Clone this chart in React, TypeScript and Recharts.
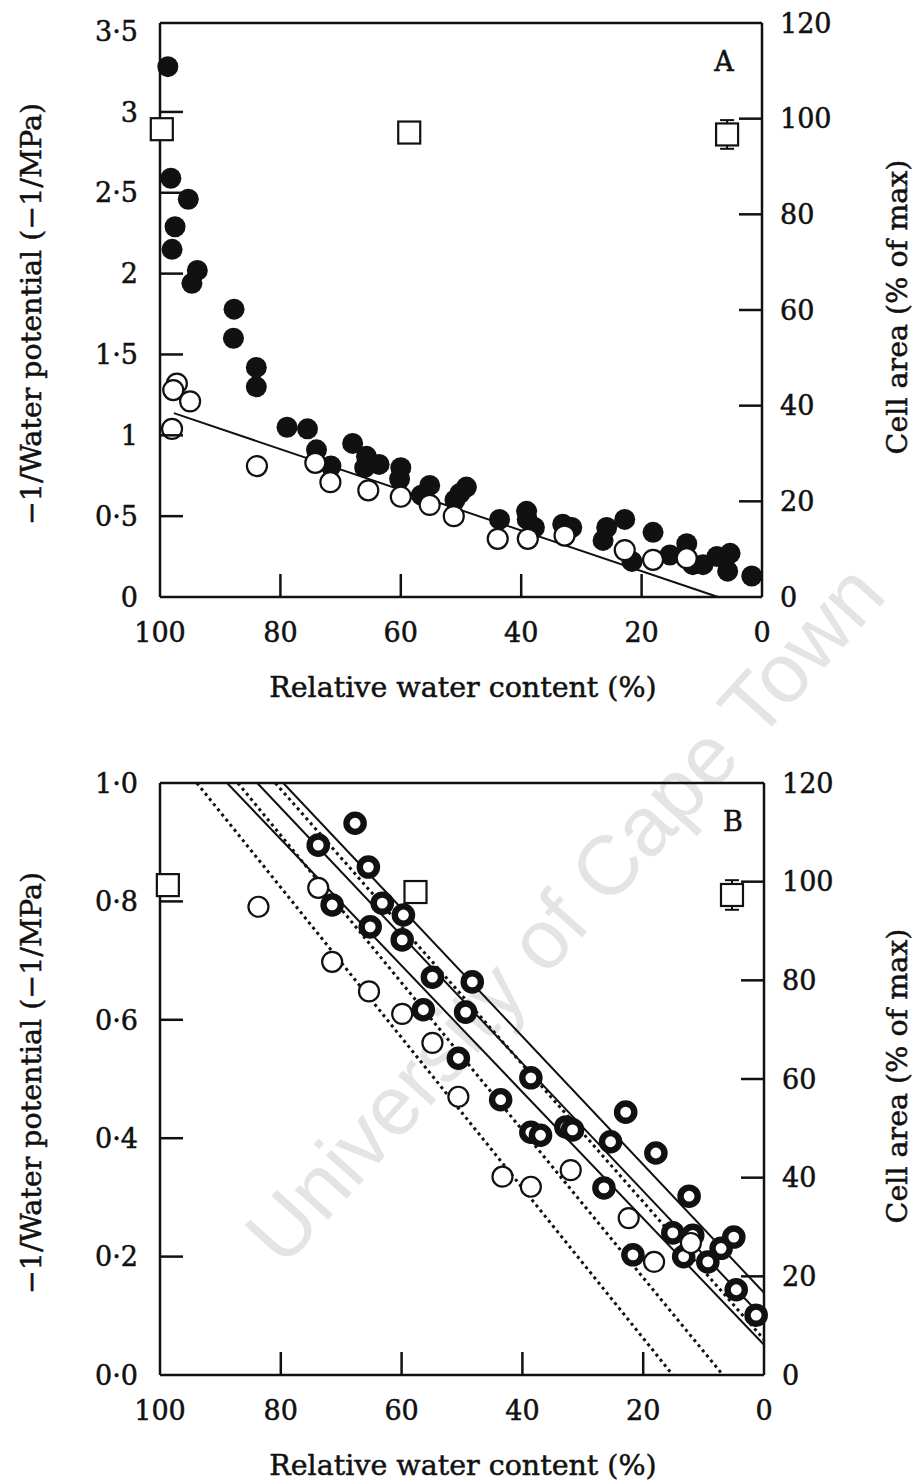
import React from "react";
import {
  ComposedChart,
  ErrorBar,
  Label,
  Line,
  ReferenceLine,
  Scatter,
  XAxis,
  YAxis,
} from "recharts";

// ---- panel A ----
const aFilledRwc = [98.7, 98.2, 95.3, 97.5, 98.0, 93.8, 94.7, 87.7, 87.8, 84.0, 84.0, 78.9, 75.5, 74.0, 71.6, 68.0, 65.7, 63.6, 66.0, 60.0, 60.2, 55.2, 56.6, 49.1, 50.2, 51.0, 43.6, 39.1, 37.8, 39.0, 33.1, 31.6, 25.8, 26.4, 22.8, 21.6, 18.1, 15.3, 12.5, 11.5, 9.8, 7.5, 5.3, 5.7, 1.7];
const aFilledPot = [3.28, 2.59, 2.46, 2.29, 2.15, 2.02, 1.94, 1.78, 1.6, 1.42, 1.3, 1.05, 1.04, 0.91, 0.81, 0.95, 0.87, 0.82, 0.8, 0.8, 0.73, 0.69, 0.63, 0.68, 0.64, 0.6, 0.48, 0.53, 0.43, 0.48, 0.45, 0.43, 0.43, 0.35, 0.48, 0.22, 0.4, 0.26, 0.33, 0.2, 0.2, 0.25, 0.27, 0.16, 0.13];
const aOpenRwc = [97.2, 97.8, 95.0, 98.0, 83.9, 74.2, 71.7, 65.4, 60.0, 55.2, 51.2, 43.9, 38.9, 32.8, 22.8, 18.1, 12.5];
const aOpenPot = [1.32, 1.28, 1.21, 1.04, 0.81, 0.83, 0.71, 0.66, 0.62, 0.57, 0.5, 0.36, 0.36, 0.38, 0.29, 0.23, 0.24];
const aSquareRwc = [99.7, 58.6];
const aSquareArea = [97.8, 97.1];
const aSquareErrRwc = [5.8];
const aSquareErrArea = [96.7];
const aSquareErr = [3];
const aFitRwc = [97.7, 7.3];
const aFitPot = [1.137, 0];

// ---- panel B ----
const bRingRwc = [67.7, 73.8, 65.5, 71.5, 63.2, 65.2, 59.7, 59.9, 54.9, 56.4, 48.3, 49.4, 50.6, 38.6, 43.6, 22.9, 32.8, 31.7, 38.6, 37.0, 25.4, 17.9, 26.5, 12.4, 15.1, 11.8, 13.3, 9.3, 7.1, 5.0, 21.7, 4.6, 1.3];
const bRingPot = [0.932, 0.895, 0.858, 0.794, 0.797, 0.757, 0.777, 0.735, 0.672, 0.617, 0.664, 0.613, 0.535, 0.502, 0.465, 0.444, 0.419, 0.414, 0.41, 0.405, 0.394, 0.375, 0.316, 0.302, 0.24, 0.236, 0.2, 0.191, 0.214, 0.233, 0.203, 0.144, 0.101];
const bOpenRwc = [83.7, 73.8, 71.5, 65.4, 59.9, 54.9, 50.6, 43.3, 38.6, 32.0, 22.4, 18.2, 12.1];
const bOpenPot = [0.791, 0.823, 0.698, 0.648, 0.61, 0.561, 0.47, 0.335, 0.318, 0.346, 0.265, 0.191, 0.223];
const bSquareRwc = [98.7, 57.7];
const bSquareArea = [99.3, 97.9];
const bSquareErrRwc = [5.3];
const bSquareErrArea = [97.3];
const bSquareErr = [3];
// fitted lines: [rwc at start, pot at start, rwc at end, pot at end]
const bSolidLines = [
  [88.9, 1.0, 0, 0.051],
  [83.9, 1.0, 0, 0.095],
  [79.6, 1.0, 0, 0.139],
];
const bDottedLines = [
  [93.9, 1.0, 15.1, 0],
  [87.1, 1.0, 6.8, 0],
  [80.9, 1.0, 0, 0.06],
];

// ---- axes ----
const xTicks = [0, 20, 40, 60, 80, 100];
const xTickLabels = ["0", "20", "40", "60", "80", "100"];
const aYTicks = [0, 0.5, 1, 1.5, 2, 2.5, 3, 3.5];
const aYTickLabels = ["0", "0·5", "1", "1·5", "2", "2·5", "3", "3·5"];
const bYTicks = [0, 0.2, 0.4, 0.6, 0.8, 1.0];
const bYTickLabels = ["0·0", "0·2", "0·4", "0·6", "0·8", "1·0"];
const areaTicks = [0, 20, 40, 60, 80, 100, 120];
const areaTickLabels = ["0", "20", "40", "60", "80", "100", "120"];

const INK = "#111";
const FONT = "'DejaVu Serif', 'Liberation Serif', serif";
const TICK = 23;

const zip = (xs: number[], ys: number[]) => xs.map((x, i) => ({ x, y: ys[i] }));

const labelOf = (ticks: number[], labels: string[], v: number) => {
  const i = ticks.findIndex((t) => Math.abs(t - v) < 1e-9);
  return i >= 0 ? labels[i] : String(v);
};

const tickText = { fontFamily: FONT, fontSize: 27, fill: INK, stroke: INK, strokeWidth: 0.5 } as const;
const titleText = { fontFamily: FONT, fontSize: 28.5, fill: INK, stroke: INK, strokeWidth: 0.5 } as const;

const leftTick = (ticks: number[], labels: string[]) => (props: any) => {
  const { x, y, payload } = props;
  const v = payload.value;
  const inner = v > ticks[0] && v < ticks[ticks.length - 1];
  return (
    <g>
      {inner && <line x1={x} x2={x + TICK} y1={y} y2={y} stroke={INK} strokeWidth={2.5} />}
      <text x={x - 22} y={y} dy="0.36em" textAnchor="end" {...tickText}>
        {labelOf(ticks, labels, v)}
      </text>
    </g>
  );
};

const rightTick = (props: any) => {
  const { x, y, payload } = props;
  const v = payload.value;
  const inner = v > 0 && v < 120;
  return (
    <g>
      {inner && <line x1={x - TICK} x2={x} y1={y} y2={y} stroke={INK} strokeWidth={2.5} />}
      <text x={x + 18} y={y} dy="0.36em" textAnchor="start" {...tickText}>
        {labelOf(areaTicks, areaTickLabels, v)}
      </text>
    </g>
  );
};

const bottomTick = (props: any) => {
  const { x, y, payload } = props;
  const v = payload.value;
  const inner = v > 0 && v < 100;
  return (
    <g>
      {inner && <line x1={x} x2={x} y1={y} y2={y - TICK} stroke={INK} strokeWidth={2.5} />}
      <text x={x} y={y + 45} textAnchor="middle" {...tickText}>
        {labelOf(xTicks, xTickLabels, v)}
      </text>
    </g>
  );
};

const FilledDot = (p: any) => <circle cx={p.cx} cy={p.cy} r={10.5} fill={INK} />;
const OpenDot = (p: any) => (
  <circle cx={p.cx} cy={p.cy} r={10} fill="#fff" stroke={INK} strokeWidth={2.2} />
);
const RingDot = (p: any) => (
  <circle cx={p.cx} cy={p.cy} r={8.6} fill="#fff" stroke={INK} strokeWidth={6.4} />
);
const SquareMark = (p: any) => (
  <rect x={p.cx - 11} y={p.cy - 11} width={22} height={22} fill="#fff" stroke={INK} strokeWidth={2.2} />
);

type PanelProps = {
  letter: string;
  letterX: number;
  height: number;
  xAxisHeight: number;
  plotRight: number;
  yTop: number;
  yTicks: number[];
  yTickLabels: string[];
  children: React.ReactNode;
};

const WIDTH = 916;
const PLOT_TOP = 23;
const PLOT_LEFT = 160;

const Panel = ({
  letter,
  letterX,
  height,
  xAxisHeight,
  plotRight,
  yTop,
  yTicks,
  yTickLabels,
  children,
}: PanelProps) => {
  const plotBottom = height - xAxisHeight;
  const midY = (PLOT_TOP + plotBottom) / 2;
  return (
    <ComposedChart
      width={WIDTH}
      height={height}
      margin={{ top: PLOT_TOP, right: 0, bottom: 0, left: 0 }}
    >
      <XAxis
        xAxisId="rwc"
        dataKey="x"
        type="number"
        domain={[0, 100]}
        reversed
        ticks={xTicks}
        interval={0}
        tickSize={0}
        tickMargin={0}
        tickLine={false}
        tick={bottomTick}
        height={xAxisHeight}
        axisLine={{ stroke: INK, strokeWidth: 2.5 }}
      >
        <Label
          content={() => (
            <text x={463} y={plotBottom + 100} textAnchor="middle" {...titleText}>
              Relative water content (%)
            </text>
          )}
        />
        <Label
          content={() => (
            <text x={letterX} y={PLOT_TOP + 48} textAnchor="middle" {...tickText}>
              {letter}
            </text>
          )}
        />
      </XAxis>
      <YAxis
        yAxisId="pot"
        type="number"
        domain={[0, yTop]}
        ticks={yTicks}
        interval={0}
        tickSize={0}
        tickMargin={0}
        tickLine={false}
        tick={leftTick(yTicks, yTickLabels)}
        width={PLOT_LEFT}
        axisLine={{ stroke: INK, strokeWidth: 2.5 }}
      >
        <Label
          content={() => (
            <text
              x={41}
              y={midY + 4}
              transform={`rotate(-90 41 ${midY + 4})`}
              textAnchor="middle"
              {...titleText}
            >
              −1/Water potential (−1/MPa)
            </text>
          )}
        />
      </YAxis>
      <YAxis
        yAxisId="area"
        orientation="right"
        type="number"
        domain={[0, 120]}
        ticks={areaTicks}
        interval={0}
        tickSize={0}
        tickMargin={0}
        tickLine={false}
        tick={rightTick}
        width={WIDTH - plotRight}
        axisLine={{ stroke: INK, strokeWidth: 2.5 }}
      >
        <Label
          content={() => (
            <text
              x={907}
              y={midY - 3}
              transform={`rotate(-90 907 ${midY - 3})`}
              textAnchor="middle"
              {...titleText}
            >
              Cell area (% of max)
            </text>
          )}
        />
      </YAxis>
      <ReferenceLine xAxisId="rwc" yAxisId="pot" y={yTop} stroke={INK} strokeWidth={2.5} />
      {children}
    </ComposedChart>
  );
};

export default function App() {
  const aFit = zip(aFitRwc, aFitPot);
  return (
    <div
      style={{
        position: "absolute",
        left: 0,
        top: 0,
        width: 916,
        height: 1484,
        background: "#fff",
        overflow: "hidden",
      }}
    >
      <svg
        width={916}
        height={1484}
        style={{ position: "absolute", left: 0, top: 0 }}
      >
        <text
          x={586}
          y={933}
          transform="rotate(-48 586 933)"
          textAnchor="middle"
          fontFamily="'Liberation Sans', Arial, sans-serif"
          fontSize={84}
          fill="#e4e4e4"
        >
          University of Cape Town
        </text>
      </svg>
      <div style={{ position: "absolute", left: 0, top: 0 }}>
        <Panel
          letter="A"
          letterX={724}
          height={740}
          xAxisHeight={143}
          plotRight={762}
          yTop={3.55}
          yTicks={aYTicks}
          yTickLabels={aYTickLabels}
        >
          <Line
            xAxisId="rwc"
            yAxisId="pot"
            data={aFit}
            dataKey="y"
            stroke={INK}
            strokeWidth={2}
            dot={false}
            isAnimationActive={false}
          />
          <Scatter
            xAxisId="rwc"
            yAxisId="pot"
            data={zip(aFilledRwc, aFilledPot)}
            dataKey="y"
            shape={FilledDot}
            isAnimationActive={false}
          />
          <Scatter
            xAxisId="rwc"
            yAxisId="pot"
            data={zip(aOpenRwc, aOpenPot)}
            dataKey="y"
            shape={OpenDot}
            isAnimationActive={false}
          />
          <Scatter
            xAxisId="rwc"
            yAxisId="area"
            data={zip(aSquareRwc, aSquareArea)}
            dataKey="y"
            shape={SquareMark}
            isAnimationActive={false}
          />
          <Scatter
            xAxisId="rwc"
            yAxisId="area"
            data={aSquareErrRwc.map((x, i) => ({ x, y: aSquareErrArea[i], err: aSquareErr[i] }))}
            dataKey="y"
            shape={SquareMark}
            isAnimationActive={false}
          >
            <ErrorBar dataKey="err" direction="y" width={7} stroke={INK} strokeWidth={2} />
          </Scatter>
        </Panel>
      </div>
      <div style={{ position: "absolute", left: 0, top: 760 }}>
        <Panel
          letter="B"
          letterX={733}
          height={724}
          xAxisHeight={109}
          plotRight={764}
          yTop={1.0}
          yTicks={bYTicks}
          yTickLabels={bYTickLabels}
        >
          {bSolidLines.map((l, i) => (
            <Line
              key={`s${i}`}
              xAxisId="rwc"
              yAxisId="pot"
              data={[
                { x: l[0], y: l[1] },
                { x: l[2], y: l[3] },
              ]}
              dataKey="y"
              stroke={INK}
              strokeWidth={2}
              dot={false}
              isAnimationActive={false}
            />
          ))}
          {bDottedLines.map((l, i) => (
            <Line
              key={`d${i}`}
              xAxisId="rwc"
              yAxisId="pot"
              data={[
                { x: l[0], y: l[1] },
                { x: l[2], y: l[3] },
              ]}
              dataKey="y"
              stroke={INK}
              strokeWidth={3}
              strokeDasharray="3 3.6"
              dot={false}
              isAnimationActive={false}
            />
          ))}
          <Scatter
            xAxisId="rwc"
            yAxisId="pot"
            data={zip(bRingRwc, bRingPot)}
            dataKey="y"
            shape={RingDot}
            isAnimationActive={false}
          />
          <Scatter
            xAxisId="rwc"
            yAxisId="pot"
            data={zip(bOpenRwc, bOpenPot)}
            dataKey="y"
            shape={OpenDot}
            isAnimationActive={false}
          />
          <Scatter
            xAxisId="rwc"
            yAxisId="area"
            data={zip(bSquareRwc, bSquareArea)}
            dataKey="y"
            shape={SquareMark}
            isAnimationActive={false}
          />
          <Scatter
            xAxisId="rwc"
            yAxisId="area"
            data={bSquareErrRwc.map((x, i) => ({ x, y: bSquareErrArea[i], err: bSquareErr[i] }))}
            dataKey="y"
            shape={SquareMark}
            isAnimationActive={false}
          >
            <ErrorBar dataKey="err" direction="y" width={7} stroke={INK} strokeWidth={2} />
          </Scatter>
        </Panel>
      </div>
    </div>
  );
}
